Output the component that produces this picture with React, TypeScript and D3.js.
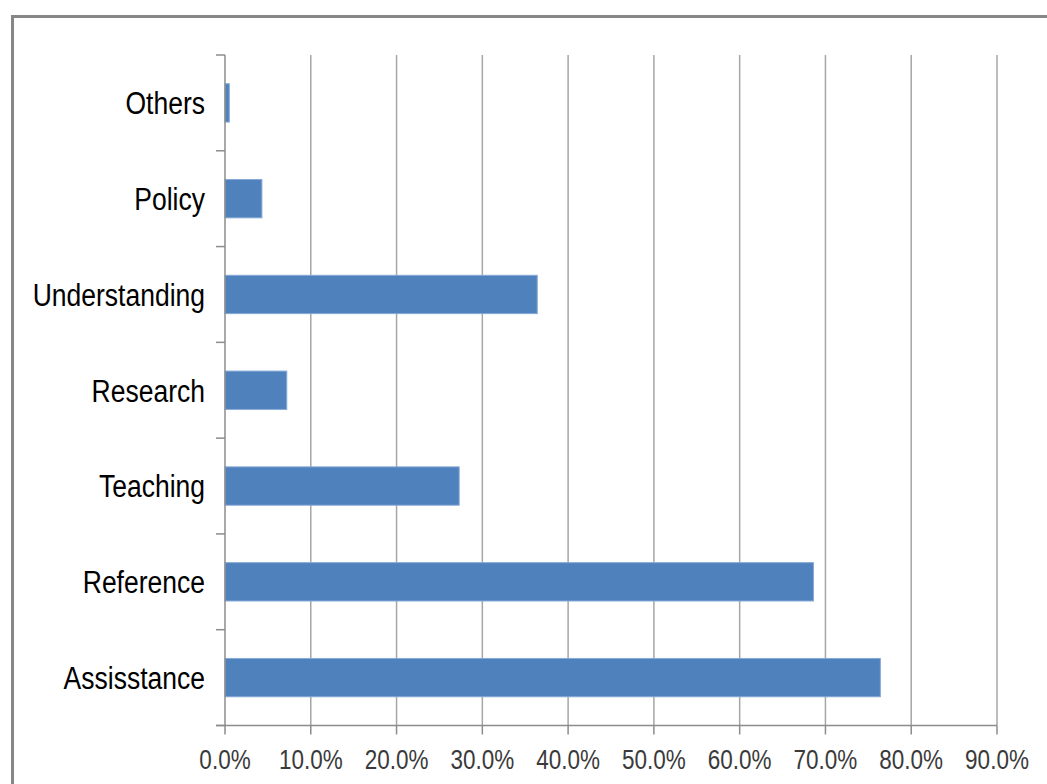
import React from "react";
import * as d3 from "d3";

const categories = ["Others", "Policy", "Understanding", "Research", "Teaching", "Reference", "Assisstance"];
const values = [0.5, 4.3, 36.4, 7.2, 27.3, 68.6, 76.4];
const tickValues = [0, 10, 20, 30, 40, 50, 60, 70, 80, 90];

const W = 1047;
const H = 784;
const left = 225;
const right = 997;
const top = 55;
const bottom = 725.5;

export default function App() {
  const x = d3.scaleLinear().domain([0, 90]).range([left, right]);
  const y = d3.scaleBand<string>().domain(categories).range([top, bottom]).paddingInner(0.6).paddingOuter(0.3);
  const step = y.step();
  const boundaries = d3.range(categories.length + 1).map((i) => top + i * ((bottom - top) / categories.length));
  const sy = 1.2;
  return (
    <svg width={W} height={H} style={{ position: "absolute", left: 0, top: 0, background: "#fff" }}>
      <rect x={0} y={0} width={W} height={H} fill="#fff" />
      {/* outer frame */}
      <path d={`M12.5,${H + 5} L12.5,16.5 L${W + 5},16.5`} fill="none" stroke="#878787" strokeWidth={3} />
      {/* gridlines */}
      {tickValues.slice(1).map((t) => (
        <line key={t} x1={x(t)} x2={x(t)} y1={top} y2={bottom} stroke="#a6a6a6" strokeWidth={1.5} />
      ))}
      {/* bars */}
      {categories.map((c, i) => (
        <rect
          key={c}
          x={x(0)}
          y={y(c)}
          width={x(values[i]) - x(0)}
          height={y.bandwidth()}
          fill="#4f81bd"
          stroke="#86a8d6"
          strokeWidth={1}
        />
      ))}
      {/* y axis */}
      <line x1={left} x2={left} y1={top} y2={bottom} stroke="#8c8c8c" strokeWidth={1.5} />
      {boundaries.map((b, i) => (
        <line key={i} x1={left - 9} x2={left} y1={b} y2={b} stroke="#8c8c8c" strokeWidth={1.5} />
      ))}
      {/* x axis */}
      <line x1={left - 9} x2={right} y1={bottom} y2={bottom} stroke="#8c8c8c" strokeWidth={1.5} />
      {tickValues.map((t) => (
        <line key={t} x1={x(t)} x2={x(t)} y1={bottom} y2={bottom + 9} stroke="#8c8c8c" strokeWidth={1.5} />
      ))}
      {/* x tick labels */}
      {tickValues.map((t) => (
        <text
          key={t}
          transform={`translate(${x(t)},${769}) scale(1,${sy})`}
          textAnchor="middle"
          fontFamily="Liberation Sans, Arial, sans-serif"
          fontSize={22.5}
          fill="#3a3a3a"
        >
          {t.toFixed(1) + "%"}
        </text>
      ))}
      {/* category labels */}
      {categories.map((c) => (
        <text
          key={c}
          transform={`translate(${205},${(y(c) as number) + y.bandwidth() / 2 + 9.5 * sy}) scale(1,${sy})`}
          textAnchor="end"
          fontFamily="Liberation Sans, Arial, sans-serif"
          fontSize={26.5}
          fill="#000"
        >
          {c}
        </text>
      ))}
    </svg>
  );
}
